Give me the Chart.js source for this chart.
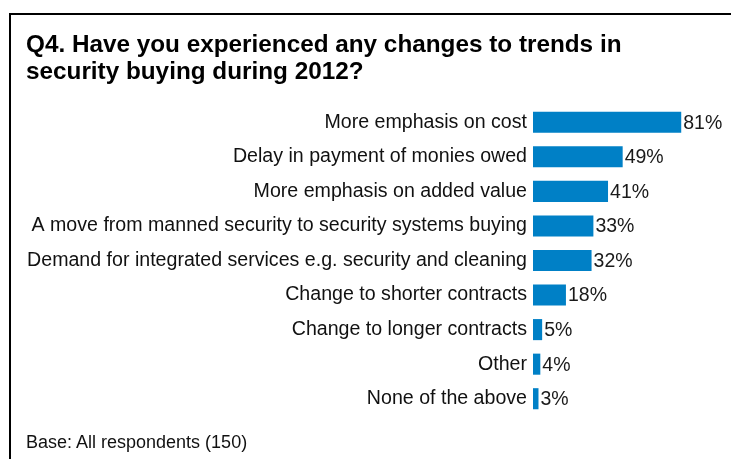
<!DOCTYPE html>
<html>
<head>
<meta charset="utf-8">
<script src="https://cdn.jsdelivr.net/npm/chart.js@4/dist/chart.umd.min.js"></script>
<style>
  html, body { margin: 0; padding: 0; background: #fff; }
  #wrap {
    position: relative; width: 731px; height: 459px; overflow: hidden;
    font-family: Arial, "Liberation Sans", sans-serif;
  }
  #frame {
    position: absolute; left: 9px; top: 13px; width: 900px; height: 600px;
    border-left: 2px solid #000; border-top: 2px solid #000;
  }
  #c { position: absolute; left: 0; top: 0; }
  #title {
    position: absolute; left: 26px; top: 29.6px; margin: 0;
    font-size: 24.3px; font-weight: bold; line-height: 27.6px; color: #000;
    white-space: nowrap;
  }
  #base {
    position: absolute; left: 26px; top: 432px;
    font-size: 18px; line-height: 20px; color: #111; white-space: nowrap;
  }
</style>
</head>
<body>
<div id="wrap">
  <div id="frame"></div>
  <canvas id="c" width="731" height="459"></canvas>
  <h1 id="title"></h1>
  <div id="base"></div>
</div>
<script>
// Survey answers, highest first
const answers = [
  "More emphasis on cost",
  "Delay in payment of monies owed",
  "More emphasis on added value",
  "A move from manned security to security systems buying",
  "Demand for integrated services e.g. security and cleaning",
  "Change to shorter contracts",
  "Change to longer contracts",
  "Other",
  "None of the above",
];
const percents = [81, 49, 41, 33, 32, 18, 5, 4, 3];

const titleLines = [
  "Q4. Have you experienced any changes to trends in",
  "security buying during 2012?",
];
const baseNote = "Base: All respondents (150)";

document.getElementById("title").innerHTML = titleLines.join("<br>");
document.getElementById("base").textContent = baseNote;

const FONT = "Arial, 'Liberation Sans', sans-serif";

// percentage labels at the end of each bar
const valueLabels = {
  id: "valueLabels",
  afterDatasetsDraw(chart) {
    const ctx = chart.ctx;
    const meta = chart.getDatasetMeta(0);
    ctx.save();
    ctx.font = "19.5px " + FONT;
    ctx.fillStyle = "#1a1a1a";
    ctx.textAlign = "left";
    ctx.textBaseline = "middle";
    meta.data.forEach((bar, i) => {
      ctx.fillText(percents[i] + "%", bar.x + 2, bar.y + 1);
    });
    ctx.restore();
  },
};

new Chart(document.getElementById("c"), {
  type: "bar",
  data: {
    labels: answers,
    datasets: [
      {
        data: percents,
        backgroundColor: "#0080c6",
        categoryPercentage: 1,
        barPercentage: 0.61,
      },
    ],
  },
  options: {
    indexAxis: "y",
    responsive: false,
    animation: false,
    layout: { padding: { top: 105, left: 10, right: 15, bottom: 43 } },
    scales: {
      x: { display: false, min: 0, max: 100 },
      y: {
        grid: { display: false, drawTicks: false },
        border: { display: false },
        ticks: {
          color: "#111",
          font: { family: FONT, size: 19.6 },
          padding: 6,
        },
        afterFit(scale) {
          scale.width = 523;
        },
      },
    },
    plugins: {
      legend: { display: false },
      tooltip: { enabled: false },
      title: { display: false },
    },
  },
  plugins: [valueLabels],
});
</script>
</body>
</html>
